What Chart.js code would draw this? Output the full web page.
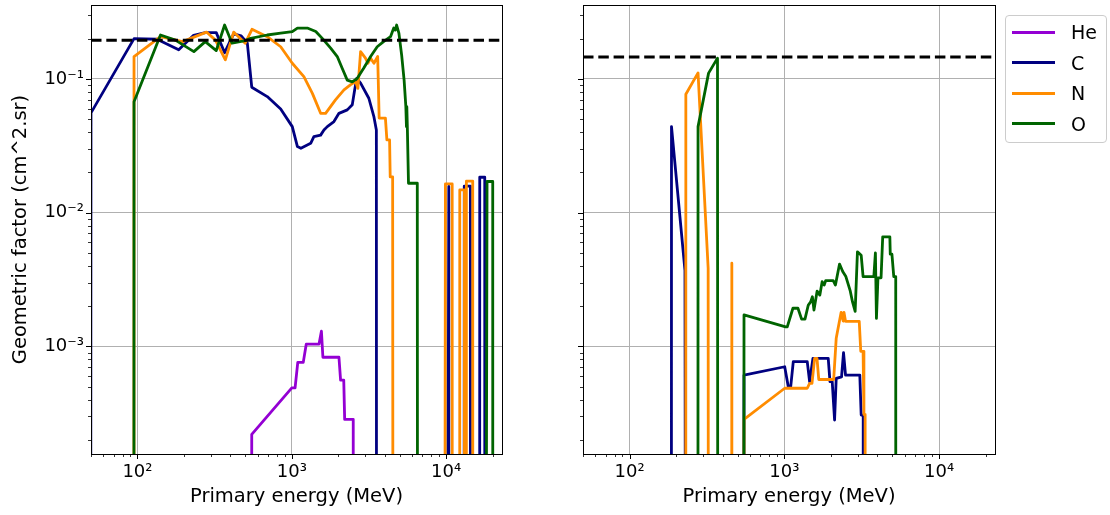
<!DOCTYPE html>
<html>
<head>
<meta charset="utf-8">
<script src="https://cdn.jsdelivr.net/npm/chart.js@4.4.1/dist/chart.umd.min.js"></script>
<style>
  body { margin: 0; background: #fff; font-family: 'DejaVu Sans', sans-serif; }
  #wrap { position: relative; width: 1110px; height: 515px; overflow: hidden; }
  canvas { position: absolute; top: 0; }
  #left { left: 0; }
  #right { left: 545px; }
  #legend { position: absolute; left: 1005px; top: 15px; width: 100px; height: 126px;
            border: 1px solid #cccccc; border-radius: 4px; background: rgba(255,255,255,0.8); }
  .swatch { position: absolute; left: 6px; width: 43px; height: 3px; }
  .name { position: absolute; left: 65px; font-size: 19px; line-height: 24px; color: #000; }
</style>
</head>
<body>
<div id="wrap">
  <canvas id="left" width="545" height="515"></canvas>
  <canvas id="right" width="565" height="515"></canvas>
  <div id="legend"></div>
</div>
<script>
// axis limits and decade labels
const energyLimits = [50, 23000];
const gfLimits = [1.57e-4, 0.357];
const xDecades = [100, 1000, 10000];
const xTickLabels = ['10²', '10³', '10⁴'];
const yDecades = [0.001, 0.01, 0.1];
const yTickLabels = ['10⁻³', '10⁻²', '10⁻¹'];

const elements = ['He', 'C', 'N', 'O'];
const colors = ['#9400d3', '#000080', '#ff8c00', '#006400'];

// reference acceptance levels (dashed lines)
const refLeft = 0.195;
const refRight = 0.146;

// left panel: energy (MeV) / geometric factor (cm^2.sr)
const heLeftE = [500, 550, 1000, 1050, 1093, 1186, 1240, 1500, 1555, 1590, 2020, 2070, 2170, 2200, 2500, 2600];
const heLeftG = [0, 2.2e-4, 4.9e-4, 4.9e-4, 7.6e-4, 7.6e-4, 1.04e-3, 1.04e-3, 1.3e-3, 8.3e-4, 8.3e-4, 5.6e-4, 5.6e-4, 2.85e-4, 2.85e-4, 0];

const cLeftE = [40, 50, 95, 134, 185, 231, 275, 324, 367, 420, 470, 515, 550, 693, 847, 1007, 1087, 1145, 1325, 1390, 1537, 1615, 1698, 1875, 2020, 2287, 2464, 2553, 2635, 2790, 3155, 3405, 3530, 4000, 10400, 11500, 13100, 14350, 15500, 16500, 17780, 19000];
const cLeftG = [0, 0.0557, 0.2, 0.198, 0.165, 0.212, 0.222, 0.222, 0.157, 0.217, 0.21, 0.185, 0.0867, 0.0738, 0.0595, 0.044, 0.0312, 0.0303, 0.033, 0.037, 0.038, 0.0415, 0.044, 0.048, 0.0553, 0.0587, 0.064, 0.0827, 0.101, 0.093, 0.0717, 0.052, 0.0415, 0, 0.0157, 0, 0.0158, 0.0158, 0, 0.0184, 0.0184, 0];

const nLeftE = [90, 95, 141, 196, 280, 320, 371, 420, 499, 552, 693, 847, 1007, 1197, 1359, 1537, 1655, 1918, 2177, 2395, 2590, 2680, 2790, 3000, 3110, 3240, 3405, 3600, 3680, 4040, 4130, 4300, 4340, 4500, 6000, 9890, 10940, 11600, 12250, 13130, 13300, 13520, 14860, 16000];
const nLeftG = [0, 0.147, 0.207, 0.19, 0.224, 0.195, 0.139, 0.224, 0.185, 0.235, 0.207, 0.174, 0.131, 0.104, 0.078, 0.0553, 0.0553, 0.0697, 0.0827, 0.0902, 0.0954, 0.085, 0.16, 0.143, 0.131, 0.143, 0.131, 0.147, 0.051, 0.051, 0.035, 0.035, 0.0185, 0.0185, 0, 0.0164, 0.0164, 0, 0.0148, 0.0148, 0, 0.0172, 0.0172, 0];

const oLeftE = [90, 95, 141, 176, 232, 275, 324, 367, 410, 499, 541, 693, 847, 1007, 1087, 1260, 1430, 1580, 1785, 1970, 2120, 2287, 2464, 2656, 2920, 3240, 3575, 3930, 4360, 4575, 4680, 4775, 4940, 5150, 5340, 5480, 5530, 5560, 5600, 5700, 6500, 8000, 18400, 20030, 21000];
const oLeftG = [0, 0.0676, 0.213, 0.195, 0.16, 0.19, 0.163, 0.253, 0.185, 0.193, 0.201, 0.213, 0.22, 0.226, 0.24, 0.24, 0.226, 0.2, 0.17, 0.147, 0.12, 0.098, 0.095, 0.101, 0.12, 0.147, 0.174, 0.19, 0.207, 0.24, 0.232, 0.253, 0.22, 0.15, 0.098, 0.062, 0.044, 0.062, 0.045, 0.0166, 0.0166, 0, 0.0171, 0.0171, 0];

// right panel
const cRightE = [170, 186.6, 228, 400, 549, 1006, 1061, 1100, 1143, 1407, 1457, 1531, 1923, 1973, 2040, 2113, 2165, 2344, 2414, 2487, 3076, 3140, 3236, 3400];
const cRightG = [0, 0.044, 0.0037, 0, 6.1e-4, 7.05e-4, 5.0e-4, 5.0e-4, 7.7e-4, 7.7e-4, 5.45e-4, 8.15e-4, 8.15e-4, 5.45e-4, 5.45e-4, 2.82e-4, 5.77e-4, 5.93e-4, 9.0e-4, 6.1e-4, 6.1e-4, 3.07e-4, 3.07e-4, 0];

const nRightE = [220, 231, 277, 322, 400, 458, 500, 549, 1006, 1407, 1457, 1510, 1570, 1627, 1670, 2085, 2165, 2260, 2330, 2400, 2430, 2487, 3050, 3120, 3230, 3270, 3330, 3500];
const nRightG = [0, 0.0768, 0.111, 0.00384, 0, 0.00419, 0, 2.85e-4, 4.87e-4, 4.87e-4, 5.3e-4, 5.3e-4, 8.15e-4, 8.15e-4, 5.66e-4, 5.66e-4, 1.15e-3, 1.5e-3, 1.8e-3, 1.55e-3, 1.8e-3, 1.54e-3, 1.54e-3, 9.2e-4, 9.2e-4, 3.1e-4, 3.1e-4, 0];

const oRightE = [260, 277, 324, 370, 450, 549, 1020, 1045, 1137, 1225, 1294, 1360, 1429, 1480, 1519, 1555, 1629, 1697, 1756, 1810, 1850, 2070, 2140, 2275, 2385, 2500, 2670, 2760, 2870, 2970, 3140, 3230, 3790, 3880, 3940, 4030, 4220, 4325, 4810, 4840, 4960, 5100, 5250, 5600];
const oRightG = [0, 0.044, 0.1105, 0.143, 0, 1.72e-3, 1.40e-3, 1.40e-3, 1.93e-3, 1.93e-3, 1.6e-3, 1.6e-3, 2.04e-3, 2.15e-3, 2.35e-3, 1.87e-3, 2.59e-3, 2.42e-3, 3.05e-3, 2.88e-3, 3.1e-3, 3.1e-3, 2.88e-3, 4.13e-3, 3.63e-3, 3.33e-3, 2.59e-3, 2.15e-3, 1.83e-3, 5.1e-3, 4.8e-3, 3.33e-3, 3.33e-3, 5.0e-3, 1.62e-3, 3.26e-3, 3.26e-3, 6.6e-3, 6.6e-3, 4.9e-3, 4.9e-3, 3.33e-3, 3.33e-3, 0];

Chart.defaults.font.family = "'DejaVu Sans', sans-serif";
Chart.defaults.color = '#000';

// a log axis has no zero, so empty bins go far below the floor and the line drops straight down
const FLOOR = 1e-200;

function series(i, E, G) {
  return {
    label: elements[i],
    data: E.map((e, k) => ({ x: e, y: G[k] > 0 ? G[k] : FLOOR })),
    borderColor: colors[i],
    borderWidth: 2.8,
    borderJoinStyle: 'round',
    pointRadius: 0,
    tension: 0,
    order: 4 - i
  };
}

function refLine(level) {
  return {
    label: 'ref',
    data: energyLimits.map(e => ({ x: e, y: level })),
    borderColor: '#000',
    borderWidth: 3,
    borderDash: [10.5, 4.8],
    pointRadius: 0,
    order: 0
  };
}

function logTicks(lo, hi) {
  const out = [];
  for (let e = Math.floor(Math.log10(lo)); e <= Math.ceil(Math.log10(hi)); e++) {
    for (let m = 1; m < 10; m++) {
      const v = m * Math.pow(10, e);
      if (v >= lo && v <= hi) out.push({ value: v, major: m === 1 });
    }
  }
  return out;
}

function decadeLabel(decades, labels) {
  return v => {
    const k = decades.findIndex(d => Math.abs(v - d) / d < 1e-6);
    return k >= 0 ? labels[k] : '';
  };
}

// matplotlib-style frame and outward tick marks (long major, short minor)
const frame = {
  id: 'frame',
  afterDraw(chart) {
    const ctx = chart.ctx, a = chart.chartArea;
    ctx.save();
    ctx.strokeStyle = '#000';
    ['x', 'y'].forEach(id => {
      const s = chart.scales[id];
      s.ticks.forEach(t => {
        const p = Math.round(s.getPixelForValue(t.value)) + 0.5;
        const len = t.major ? 5 : 3;
        ctx.lineWidth = t.major ? 1 : 0.8;
        ctx.beginPath();
        if (id === 'x') { ctx.moveTo(p, a.bottom); ctx.lineTo(p, a.bottom + len); }
        else { ctx.moveTo(a.left, p); ctx.lineTo(a.left - len, p); }
        ctx.stroke();
      });
    });
    ctx.lineWidth = 1;
    ctx.strokeRect(Math.round(a.left) + 0.5, Math.round(a.top) + 0.5,
                   Math.round(a.right - a.left), Math.round(a.bottom - a.top));
    ctx.restore();
  }
};

function makeOptions(axisWidth, padRight, showY) {
  return {
    responsive: false,
    animation: false,
    devicePixelRatio: 1,
    events: [],
    layout: { padding: { top: 5, right: padRight, bottom: 0, left: 0 } },
    plugins: { legend: { display: false }, tooltip: { enabled: false } },
    scales: {
      x: {
        type: 'logarithmic',
        min: energyLimits[0],
        max: energyLimits[1],
        afterBuildTicks: s => { s.ticks = logTicks(energyLimits[0], energyLimits[1]); },
        afterFit: s => { s.height = 61; s.paddingLeft = 0; s.paddingRight = 0; },
        border: { display: false },
        grid: {
          drawTicks: false,
          lineWidth: 1,
          color: c => (c.tick && c.tick.major) ? '#b0b0b0' : 'rgba(0,0,0,0)'
        },
        ticks: {
          padding: 8,
          autoSkip: false,
          maxRotation: 0,
          font: { size: 18 },
          callback: decadeLabel(xDecades, xTickLabels)
        },
        title: {
          display: true,
          text: 'Primary energy (MeV)',
          font: { size: 19.5 },
          padding: { top: 0, bottom: 6 }
        }
      },
      y: {
        type: 'logarithmic',
        min: gfLimits[0],
        max: gfLimits[1],
        afterBuildTicks: s => { s.ticks = logTicks(gfLimits[0], gfLimits[1]); },
        afterFit: s => { s.width = axisWidth; s.paddingTop = 0; s.paddingBottom = 0; },
        border: { display: false },
        grid: {
          drawTicks: false,
          lineWidth: 1,
          color: c => (c.tick && c.tick.major) ? '#b0b0b0' : 'rgba(0,0,0,0)'
        },
        ticks: {
          display: showY,
          padding: 7,
          autoSkip: false,
          font: { size: 18 },
          callback: decadeLabel(yDecades, yTickLabels)
        },
        title: {
          display: showY,
          text: 'Geometric factor (cm^2.sr)',
          font: { size: 19.5 },
          padding: { top: 9, bottom: 0 }
        }
      }
    }
  };
}

new Chart(document.getElementById('left'), {
  type: 'line',
  data: {
    datasets: [
      refLine(refLeft),
      series(0, heLeftE, heLeftG),
      series(1, cLeftE, cLeftG),
      series(2, nLeftE, nLeftG),
      series(3, oLeftE, oLeftG)
    ]
  },
  options: makeOptions(91, 43, true),
  plugins: [frame]
});

new Chart(document.getElementById('right'), {
  type: 'line',
  data: {
    datasets: [
      refLine(refRight),
      series(1, cRightE, cRightG),
      series(2, nRightE, nRightG),
      series(3, oRightE, oRightG)
    ]
  },
  options: makeOptions(38, 115, false),
  plugins: [frame]
});

// legend box to the right of the second panel
const legend = document.getElementById('legend');
elements.forEach((name, i) => {
  const top = 16 + i * 30.5;
  const sw = document.createElement('div');
  sw.className = 'swatch';
  sw.style.top = (top - 1.5) + 'px';
  sw.style.background = colors[i];
  legend.appendChild(sw);
  const tx = document.createElement('div');
  tx.className = 'name';
  tx.style.top = (top - 12) + 'px';
  tx.textContent = name;
  legend.appendChild(tx);
});
</script>
</body>
</html>
